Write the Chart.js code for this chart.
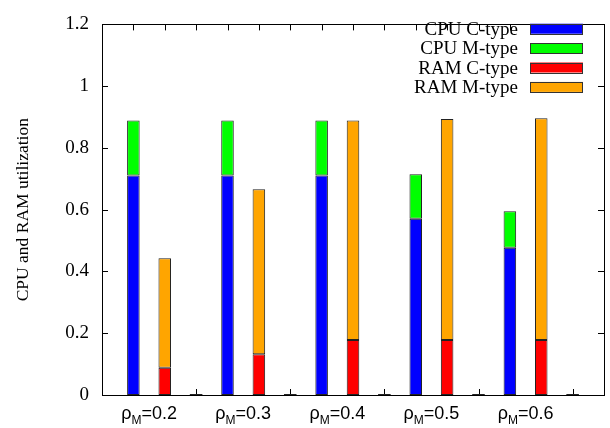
<!DOCTYPE html>
<html>
<head>
<meta charset="utf-8">
<script src="https://cdn.jsdelivr.net/npm/chart.js@4.4.0/dist/chart.umd.min.js"></script>
<style>
  html, body { margin: 0; padding: 0; background: #fff; }
</style>
</head>
<body>
<canvas id="myChart" width="610" height="428"></canvas>
<script>
// rho_M for each group of bars
var groups = ['0.2', '0.3', '0.4', '0.5', '0.6'];
// utilization per group
var cpuC = [0.711, 0.711, 0.711, 0.571, 0.477];
var cpuM = [0.178, 0.178, 0.178, 0.144, 0.118];
var ramC = [0.088, 0.132, 0.178, 0.178, 0.178];
var ramM = [0.355, 0.534, 0.711, 0.716, 0.718];
var yTicks = [0, 0.2, 0.4, 0.6, 0.8, 1, 1.2];
var seriesNames = ['CPU C-type', 'CPU M-type', 'RAM C-type', 'RAM M-type'];
var seriesColors = ['#0000ff', '#00ff00', '#ff0000', '#ffa500'];

// x axis is a row of slots: edge, then (CPU, RAM, gap) per group, then edge
var slotCount = groups.length * 3 + 2;
var slots = [];
for (var i = 0; i < slotCount; i++) slots.push('s' + i);

function placeInSlots(values, offset) {
    var out = [];
    for (var i = 0; i < slotCount; i++) out.push(null);
    values.forEach(function (v, g) { out[1 + g * 3 + offset] = v; });
    return out;
}

var serif = '"Liberation Serif", "Times New Roman", serif';
var sans = '"Liberation Sans", Arial, sans-serif';
var tickLen = 6;
var barPct = 0.4;

// gnuplot-like frame: inward ticks on all four sides, box, legend, group labels
var framePlugin = {
    id: 'frame',
    beforeDatasetsDraw: function (chart) {
        var ctx = chart.ctx, a = chart.chartArea;
        var xs = chart.scales.x, ys = chart.scales.y;
        ctx.save();
        ctx.strokeStyle = '#000';
        ctx.lineWidth = 1;
        ctx.beginPath();
        yTicks.forEach(function (v) {
            var y = Math.round(ys.getPixelForValue(v)) + 0.5;
            ctx.moveTo(a.left, y); ctx.lineTo(a.left + tickLen, y);
            ctx.moveTo(a.right, y); ctx.lineTo(a.right - tickLen, y);
        });
        for (var i = 1; i < slotCount - 1; i++) {
            var x = Math.round(xs.getPixelForValue(i)) + 0.5;
            ctx.moveTo(x, a.bottom); ctx.lineTo(x, a.bottom - tickLen);
            ctx.moveTo(x, a.top); ctx.lineTo(x, a.top + tickLen);
        }
        ctx.stroke();
        ctx.restore();
    },
    afterDatasetsDraw: function (chart) {
        var ctx = chart.ctx, a = chart.chartArea;
        var xs = chart.scales.x;
        var step = xs.getPixelForValue(1) - xs.getPixelForValue(0);
        var bw = step * barPct;
        var yb = Math.round(a.bottom);
        ctx.save();

        // empty gap columns show up as flat bars lying on the axis
        ctx.strokeStyle = '#222';
        ctx.lineWidth = 1;
        ctx.beginPath();
        groups.forEach(function (g, k) {
            var x = xs.getPixelForValue(3 + k * 3);
            ctx.moveTo(x - bw / 2, yb - 0.5);
            ctx.lineTo(x + bw / 2, yb - 0.5);
        });
        ctx.stroke();

        // plot border
        ctx.strokeStyle = '#000';
        ctx.strokeRect(Math.round(a.left) + 0.5, Math.round(a.top) + 0.5,
            Math.round(a.right - a.left), yb - Math.round(a.top));

        // group labels: rho with subscript M, centred under each bar pair
        ctx.fillStyle = '#000';
        ctx.textBaseline = 'alphabetic';
        ctx.textAlign = 'left';
        groups.forEach(function (g, k) {
            var cx = (xs.getPixelForValue(1 + k * 3) + xs.getPixelForValue(2 + k * 3)) / 2;
            var big = '18px ' + sans, small = '12px ' + sans;
            ctx.font = big;
            var w1 = ctx.measureText('\u03c1').width;
            var w3 = ctx.measureText('=' + g).width;
            ctx.font = small;
            var w2 = ctx.measureText('M').width;
            var x0 = cx - (w1 + w2 + w3) / 2;
            var base = 419;
            ctx.font = big;
            ctx.fillText('\u03c1', x0, base);
            ctx.font = small;
            ctx.fillText('M', x0 + w1, base + 5);
            ctx.font = big;
            ctx.fillText('=' + g, x0 + w1 + w2, base);
        });

        // legend: text right-aligned, colour swatch to the right
        ctx.font = '19px ' + serif;
        ctx.textAlign = 'right';
        seriesNames.forEach(function (name, i) {
            var cy = 28.7 + i * 19.4;
            ctx.fillStyle = '#000';
            ctx.fillText(name, 518, cy + 6);
            ctx.fillStyle = seriesColors[i];
            ctx.fillRect(530, cy - 5, 53, 10);
            ctx.strokeStyle = '#333';
            ctx.strokeRect(530.5, Math.round(cy - 5) + 0.5, 52, 10);
        });
        ctx.restore();
    }
};

function makeSet(i, values, offset) {
    return {
        label: seriesNames[i],
        data: placeInSlots(values, offset),
        backgroundColor: seriesColors[i],
        borderColor: '#222',
        borderWidth: 1,
        borderSkipped: false,
        barPercentage: barPct,
        categoryPercentage: 1
    };
}

var ctx = document.getElementById('myChart').getContext('2d');
window.myChart = new Chart(ctx, {
    type: 'bar',
    data: {
        labels: slots,
        datasets: [
            makeSet(0, cpuC, 0),
            makeSet(1, cpuM, 0),
            makeSet(2, ramC, 1),
            makeSet(3, ramM, 1)
        ]
    },
    options: {
        responsive: false,
        animation: false,
        devicePixelRatio: 1,
        layout: { padding: { top: 14, right: 6, bottom: 0, left: 0 } },
        plugins: {
            legend: { display: false },
            tooltip: { enabled: false }
        },
        scales: {
            x: {
                stacked: true,
                offset: false,
                grid: { display: false, offset: false },
                border: { display: false },
                ticks: { display: false },
                afterFit: function (s) { s.height = 33; }
            },
            y: {
                stacked: true,
                min: 0,
                max: 1.2,
                afterBuildTicks: function (s) {
                    s.ticks = yTicks.map(function (v) { return { value: v }; });
                },
                afterFit: function (s) { s.width = 102; },
                grid: { display: false, drawTicks: false },
                border: { display: false },
                ticks: {
                    padding: 13,
                    color: '#000',
                    font: { family: serif, size: 19 },
                    callback: function (v) { return String(+v.toFixed(1)); }
                },
                title: {
                    display: true,
                    text: 'CPU and RAM utilization',
                    color: '#000',
                    font: { family: serif, size: 17.5 },
                    padding: { top: 12.5, bottom: 0 }
                }
            }
        }
    },
    plugins: [framePlugin]
});
</script>
</body>
</html>
